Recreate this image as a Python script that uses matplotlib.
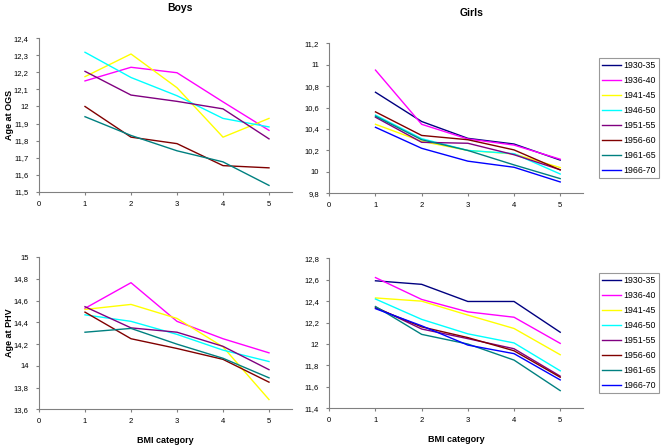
import matplotlib
matplotlib.use("Agg")
import matplotlib.pyplot as plt
from matplotlib.ticker import FuncFormatter, MultipleLocator
import numpy as np

plt.rcParams['font.family'] = ['Liberation Sans', 'DejaVu Sans']

bmi_cat = [1, 2, 3, 4, 5]
cohorts = ["1930-35", "1936-40", "1941-45", "1946-50", "1951-55", "1956-60", "1961-65", "1966-70"]
colors = ["#000080", "#FF00FF", "#FFFF00", "#00FFFF", "#800080", "#800000", "#008080", "#0000FF"]

# Boys, age at OGS (None = cohort not shown)
boys_ogs_1930 = None
boys_ogs_1936 = [12.15, 12.23, 12.198, 12.027, 11.86]
boys_ogs_1941 = [12.175, 12.308, 12.11, 11.82, 11.93]
boys_ogs_1946 = [12.318, 12.17, 12.063, 11.93, 11.88]
boys_ogs_1951 = [12.206, 12.067, 12.03, 11.986, 11.81]
boys_ogs_1956 = [12.0, 11.82, 11.782, 11.653, 11.64]
boys_ogs_1961 = [11.94, 11.83, 11.74, 11.675, 11.537]
boys_ogs_1966 = None

# Girls, age at OGS
girls_ogs_1930 = [10.743, 10.47, 10.313, 10.26, 10.11]
girls_ogs_1936 = [10.95, 10.444, 10.307, 10.25, 10.118]
girls_ogs_1941 = [10.444, 10.285, 10.2, 10.167, 10.04]
girls_ogs_1946 = [10.53, 10.31, 10.2, 10.17, 9.98]
girls_ogs_1951 = [10.51, 10.276, 10.267, 10.16, 10.02]
girls_ogs_1956 = [10.56, 10.34, 10.30, 10.205, 10.018]
girls_ogs_1961 = [10.52, 10.30, 10.2, 10.065, 9.937]
girls_ogs_1966 = [10.416, 10.22, 10.1, 10.043, 9.906]

# Boys, age at PHV
boys_phv_1930 = None
boys_phv_1936 = [14.53, 14.766, 14.41, 14.25, 14.12]
boys_phv_1941 = [14.52, 14.566, 14.437, 14.175, 13.69]
boys_phv_1946 = [14.47, 14.41, 14.29, 14.145, 14.04]
boys_phv_1951 = [14.545, 14.35, 14.31, 14.18, 13.965]
boys_phv_1956 = [14.495, 14.25, 14.16, 14.06, 13.85]
boys_phv_1961 = [14.31, 14.345, 14.2, 14.07, 13.89]
boys_phv_1966 = None

# Girls, age at PHV
girls_phv_1930 = [12.59, 12.557, 12.397, 12.397, 12.11]
girls_phv_1936 = [12.62, 12.416, 12.30, 12.25, 12.006]
girls_phv_1941 = [12.43, 12.40, 12.27, 12.145, 11.90]
girls_phv_1946 = [12.42, 12.23, 12.095, 12.01, 11.75]
girls_phv_1951 = [12.345, 12.14, 12.05, 11.956, 11.70]
girls_phv_1956 = [12.337, 12.16, 12.06, 11.937, 11.69]
girls_phv_1961 = [12.35, 12.09, 12.0, 11.85, 11.565]
girls_phv_1966 = [12.33, 12.17, 11.99, 11.91, 11.665]

boys_ogs = [boys_ogs_1930, boys_ogs_1936, boys_ogs_1941, boys_ogs_1946,
            boys_ogs_1951, boys_ogs_1956, boys_ogs_1961, boys_ogs_1966]
girls_ogs = [girls_ogs_1930, girls_ogs_1936, girls_ogs_1941, girls_ogs_1946,
             girls_ogs_1951, girls_ogs_1956, girls_ogs_1961, girls_ogs_1966]
boys_phv = [boys_phv_1930, boys_phv_1936, boys_phv_1941, boys_phv_1946,
            boys_phv_1951, boys_phv_1956, boys_phv_1961, boys_phv_1966]
girls_phv = [girls_phv_1930, girls_phv_1936, girls_phv_1941, girls_phv_1946,
             girls_phv_1951, girls_phv_1956, girls_phv_1961, girls_phv_1966]

W, H = 661, 447
fig = plt.figure(figsize=(W / 100, H / 100), dpi=100)

def px_axes(left, top, right, bottom):
    return fig.add_axes([left / W, 1 - bottom / H, (right - left) / W, (bottom - top) / H])

comma = FuncFormatter(lambda v, p: f"{v:.10g}".replace('.', ','))

def style(ax, ylim, step):
    ax.set_xlim(0, 5.5)
    ax.set_ylim(*ylim)
    ax.set_xticks([0, 1, 2, 3, 4, 5])
    ax.yaxis.set_major_locator(MultipleLocator(step))
    ax.yaxis.set_major_formatter(comma)
    for s in ['top', 'right']:
        ax.spines[s].set_visible(False)
    for s in ['left', 'bottom']:
        ax.spines[s].set_color('#808080')
        ax.spines[s].set_linewidth(0.8)
    ax.tick_params(axis='both', labelsize=5.5, length=2.5, width=0.8, color='#808080')
    ax.tick_params(axis='x', pad=4)
    ax.tick_params(axis='y', pad=5)

def draw(ax, series):
    handles = []
    for lab, col, vals in zip(cohorts, colors, series):
        if vals is None:
            h, = ax.plot([], [], color=col, lw=1.0, label=lab)
        else:
            h, = ax.plot(bmi_cat, vals, color=col, lw=1.0, label=lab)
        handles.append(h)
    return handles

ax1 = px_axes(39, 38.3, 292, 191.7)
draw(ax1, boys_ogs)
style(ax1, (11.5, 12.4), 0.1)

ax2 = px_axes(329.3, 43.3, 583.3, 193.3)
h2 = draw(ax2, girls_ogs)
style(ax2, (9.8, 11.2), 0.2)

ax3 = px_axes(39, 257.3, 292, 409.3)
draw(ax3, boys_phv)
style(ax3, (13.6, 15.0), 0.2)
ax3.set_xlabel("BMI category", fontsize=6.5, fontweight='bold', labelpad=8)

ax4 = px_axes(329.3, 258.3, 583.3, 408.3)
h4 = draw(ax4, girls_phv)
style(ax4, (11.4, 12.8), 0.2)
ax4.set_xlabel("BMI category", fontsize=6.5, fontweight='bold', labelpad=8)

fig.text(10 / W, 1 - 115 / H, "Age at OGS", rotation=90, ha='center', va='center',
         fontsize=6.5, fontweight='bold')
fig.text(10 / W, 1 - 333 / H, "Age at PHV", rotation=90, ha='center', va='center',
         fontsize=6.5, fontweight='bold')

fig.text(180 / W, 1 - 8 / H, "Boys", ha='center', va='center', fontsize=7.5, fontweight='bold')
fig.text(472 / W, 1 - 13 / H, "Girls", ha='center', va='center', fontsize=7.5, fontweight='bold')

for hs, top in [(h2, 58), (h4, 273)]:
    leg = fig.legend(hs, cohorts, loc='upper left', bbox_to_anchor=(599 / W, 1 - top / H),
                     prop={'size': 6.3}, frameon=True, fancybox=False, handlelength=2.2,
                     handletextpad=0.25, labelspacing=0.68, borderpad=0.35, borderaxespad=0)
    leg.get_frame().set_edgecolor('#808080')
    leg.get_frame().set_linewidth(0.8)

fig.savefig("out.png", dpi=100)
